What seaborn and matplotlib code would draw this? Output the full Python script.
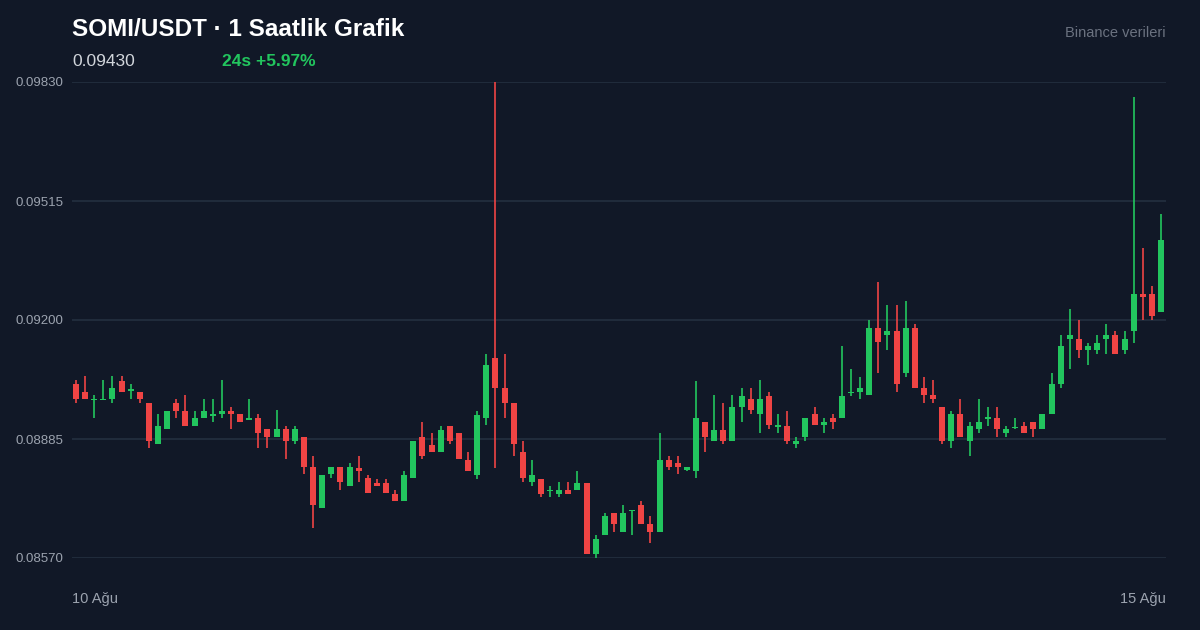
import numpy as np
import pandas as pd
import matplotlib
matplotlib.use("Agg")
import matplotlib.pyplot as plt
import seaborn as sns

# fiyatlar 1e-5 biriminde (0.09830 -> 9830), saatlik mumlar
opens = [9031, 9009, 8988, 8988, 8991, 9039, 9012, 9009, 8980, 8872,
         8911, 8980, 8959, 8919, 8941, 8946, 8951, 8959, 8951, 8936,
         8941, 8911, 8890, 8911, 8880, 8890, 8811, 8702, 8792, 8811,
         8761, 8808, 8782, 8769, 8769, 8739, 8721, 8782, 8890, 8869,
         8851, 8919, 8901, 8829, 8790, 8941, 9099, 9020, 8980, 8851,
         8771, 8779, 8747, 8739, 8750, 8750, 8769, 8581, 8631, 8689,
         8639, 8694, 8710, 8660, 8639, 8829, 8821, 8803, 8800, 8930,
         8880, 8909, 8880, 8970, 8991, 8951, 8999, 8917, 8919, 8872,
         8890, 8951, 8922, 8941, 8941, 9006, 9009, 9001, 9179, 9160,
         9171, 9060, 9179, 9020, 9001, 8970, 8880, 8951, 8880, 8911,
         8938, 8941, 8901, 8914, 8919, 8930, 8911, 8951, 9031, 9150,
         9150, 9121, 9121, 9150, 9160, 9121, 9171, 9269, 9269, 9221]
highs = [9041, 9052, 9001, 9041, 9052, 9052, 9031, 9009, 8980, 8951,
         8959, 8991, 9001, 8959, 8991, 8991, 9041, 8970, 8951, 8991,
         8951, 8911, 8962, 8919, 8919, 8890, 8840, 8790, 8811, 8811,
         8821, 8840, 8790, 8779, 8779, 8750, 8800, 8880, 8930, 8901,
         8919, 8919, 8901, 8851, 8959, 9110, 9830, 9110, 8980, 8880,
         8829, 8779, 8761, 8771, 8771, 8800, 8769, 8631, 8689, 8689,
         8710, 8697, 8721, 8681, 8901, 8840, 8840, 8811, 9039, 8930,
         9001, 8980, 9001, 9020, 9020, 9041, 9009, 8951, 8959, 8890,
         8941, 8970, 8941, 8951, 9131, 9070, 9049, 9200, 9301, 9240,
         9240, 9250, 9189, 9049, 9041, 8970, 8959, 8991, 8930, 8991,
         8970, 8970, 8919, 8941, 8930, 8930, 8951, 9060, 9160, 9229,
         9200, 9139, 9160, 9189, 9171, 9171, 9790, 9391, 9290, 9481]
lows = [8980, 8991, 8941, 8988, 8980, 9009, 8991, 8980, 8861, 8872,
        8911, 8941, 8919, 8919, 8941, 8930, 8941, 8911, 8930, 8936,
        8861, 8861, 8890, 8832, 8872, 8792, 8649, 8702, 8782, 8750,
        8761, 8771, 8742, 8761, 8742, 8721, 8721, 8782, 8832, 8851,
        8851, 8872, 8832, 8800, 8779, 8922, 8808, 8941, 8840, 8771,
        8761, 8731, 8731, 8731, 8739, 8750, 8581, 8570, 8631, 8639,
        8639, 8631, 8660, 8610, 8639, 8803, 8792, 8800, 8782, 8851,
        8880, 8872, 8880, 8930, 8951, 8901, 8911, 8901, 8872, 8861,
        8880, 8922, 8901, 8911, 8941, 8999, 8991, 9001, 9060, 9121,
        9009, 9049, 9020, 8980, 8980, 8872, 8861, 8890, 8840, 8901,
        8919, 8890, 8890, 8911, 8901, 8890, 8911, 8951, 9020, 9070,
        9099, 9081, 9110, 9110, 9110, 9110, 9139, 9200, 9200, 9221]
closes = [8991, 8991, 8991, 8991, 9020, 9009, 9017, 8991, 8880, 8919,
          8959, 8959, 8919, 8941, 8959, 8949, 8959, 8951, 8930, 8938,
          8901, 8890, 8911, 8880, 8911, 8811, 8710, 8790, 8811, 8771,
          8811, 8800, 8742, 8761, 8742, 8721, 8790, 8880, 8840, 8851,
          8909, 8880, 8832, 8800, 8949, 9081, 9020, 8980, 8872, 8782,
          8790, 8739, 8750, 8750, 8739, 8769, 8581, 8620, 8681, 8660,
          8689, 8697, 8660, 8639, 8829, 8811, 8811, 8811, 8941, 8890,
          8909, 8880, 8970, 8999, 8962, 8991, 8922, 8919, 8880, 8880,
          8941, 8922, 8930, 8930, 8999, 9009, 9020, 9179, 9142, 9171,
          9031, 9179, 9020, 9001, 8991, 8880, 8951, 8890, 8919, 8930,
          8941, 8911, 8911, 8917, 8901, 8911, 8951, 9031, 9131, 9160,
          9121, 9131, 9139, 9160, 9110, 9150, 9269, 9261, 9211, 9412]

y_ticks = [0.09830, 0.09515, 0.09200, 0.08885, 0.08570]
title = "SOMI/USDT · 1 Saatlik Grafik"
last_price = "0.09430"
change = "24s +5.97%"
x_labels = ["10 Ağu", "15 Ağu"]

df = pd.DataFrame({"open": opens, "high": highs, "low": lows, "close": closes}) / 1e5
df["i"] = np.arange(len(df))
df["up"] = df["close"] >= df["open"]

BG = "#111827"
GREEN = "#22c55e"
RED = "#ef4444"

sns.set_style("dark", {"axes.facecolor": BG, "figure.facecolor": BG})
plt.rcParams["font.family"] = ["Liberation Sans", "DejaVu Sans"]

fig = plt.figure(figsize=(12, 6.3), dpi=100)
ax = fig.add_axes([0.06, 1 - 558 / 630, 1094 / 1200, 476 / 630])
ax.set_facecolor(BG)

colors = np.where(df["up"], GREEN, RED)
ax.vlines(df["i"], df["low"], df["high"], colors=colors, linewidth=1.2, zorder=2)
body_lo = np.minimum(df["open"], df["close"])
body_h = np.maximum((df["close"] - df["open"]).abs(), 0.00004)
ax.bar(df["i"], body_h, bottom=body_lo, width=0.66, color=colors,
       edgecolor=colors, linewidth=0, zorder=3)

ax.set_xlim(-0.44, len(df) - 1 + 0.55)
ax.set_ylim(y_ticks[-1], y_ticks[0])
ax.set_yticks(y_ticks)
ax.set_yticklabels([f"{v:.5f}" for v in y_ticks], color="#9ca3af", fontsize=9.5)
ax.tick_params(axis="y", length=0, pad=6)
ax.set_xticks([])
ax.grid(axis="y", color="#243040", linewidth=1.2, zorder=0)
ax.grid(axis="x", visible=False)
for s in ax.spines.values():
    s.set_visible(False)

fig.text(72 / 1200, 1 - 30 / 630, title, color="white", fontsize=17.5,
         fontweight="bold", va="center", ha="left")
fig.text(72 / 1200, 1 - 61 / 630, last_price, color="#d1d5db", fontsize=12.5,
         va="center", ha="left")
fig.text(222 / 1200, 1 - 61 / 630, change, color=GREEN, fontsize=12.5,
         fontweight="bold", va="center", ha="left")
fig.text(1166 / 1200, 1 - 33 / 630, "Binance verileri", color="#6b7280",
         fontsize=10.5, va="center", ha="right")
fig.text(72 / 1200, 1 - 599 / 630, x_labels[0], color="#9ca3af", fontsize=10.5,
         va="center", ha="left")
fig.text(1166 / 1200, 1 - 599 / 630, x_labels[1], color="#9ca3af", fontsize=10.5,
         va="center", ha="right")

fig.savefig("out.png", dpi=100, facecolor=BG)
